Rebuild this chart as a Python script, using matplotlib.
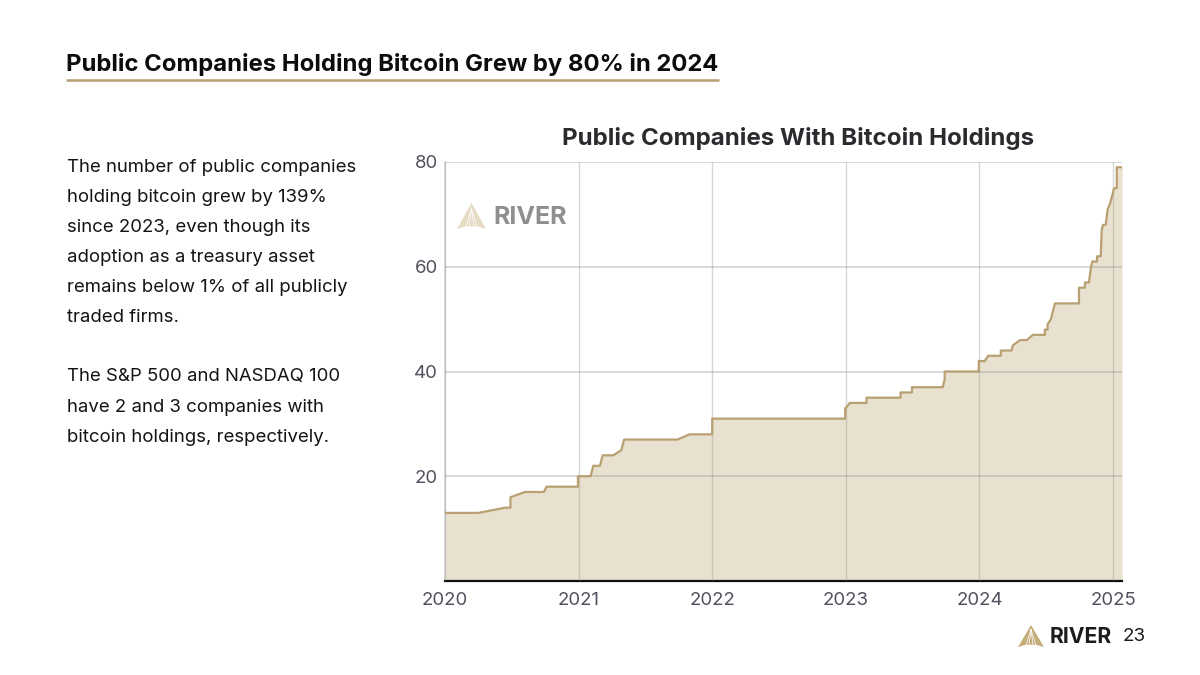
import matplotlib
matplotlib.use("Agg")
from matplotlib import pyplot as plt
from matplotlib.patches import Polygon

plt.rcParams["font.family"] = ["Inter", "DejaVu Sans"]

GOLD = "#b9a072"
FILL = "#e9e1cf"
GRID = "#d6d6d6"
TICK = "#50505e"

# (year as decimal, number of companies)
years = [
    2020.00, 2020.25, 2020.45, 2020.49, 2020.49, 2020.60, 2020.74, 2020.76, 2020.995, 2020.995,
    2021.09, 2021.11, 2021.16, 2021.18, 2021.26, 2021.32, 2021.34, 2021.74, 2021.83, 2022.00, 2022.00,
    2022.995, 2022.995, 2023.00, 2023.03, 2023.155, 2023.155, 2023.41, 2023.41, 2023.495, 2023.495,
    2023.725, 2023.74, 2023.74, 2023.995, 2023.995, 2024.04, 2024.065, 2024.16, 2024.16, 2024.24, 2024.25,
    2024.305, 2024.355, 2024.40, 2024.49, 2024.49, 2024.51, 2024.51, 2024.535, 2024.565, 2024.745, 2024.745,
    2024.79, 2024.79, 2024.82, 2024.835, 2024.845, 2024.88, 2024.88, 2024.908, 2024.915, 2024.925, 2024.945,
    2024.95, 2024.96, 2024.977, 2024.998, 2025.007, 2025.028, 2025.028, 2025.067,
]
companies = [
    13, 13, 14, 14, 16, 17, 17, 18, 18, 20,
    20, 22, 22, 24, 24, 25, 27, 27, 28, 28, 31,
    31, 33, 33, 34, 34, 35, 35, 36, 36, 37,
    37, 38.5, 40, 40, 42, 42, 43, 43, 44, 44, 45,
    46, 46, 47, 47, 48, 48, 49, 50, 53, 53, 56,
    56, 57, 57, 60, 61, 61, 62, 62, 67, 68, 68,
    69, 71, 72, 74, 75, 75, 79, 79,
]

x_ticks = [2020, 2021, 2022, 2023, 2024, 2025]
y_ticks = [20, 40, 60, 80]

slide_title = "Public Companies Holding Bitcoin Grew by 80% in 2024"
chart_title = "Public Companies With Bitcoin Holdings"
body_lines = [
    ("The number of public companies", 167),
    ("holding bitcoin grew by 139%", 197),
    ("since 2023, even though its", 228),
    ("adoption as a treasury asset", 258),
    ("remains below 1% of all publicly", 288),
    ("traded firms.", 318),
    ("The S&P 500 and NASDAQ 100", 376),
    ("have 2 and 3 companies with", 407),
    ("bitcoin holdings, respectively.", 438),
]


def draw_logo(page, x, y, w, h, text_color, tri_color, text_x, text_y, size):
    # triangle mark, slightly hollow base, ribs cut out of it
    mid = x + w / 2
    page.add_patch(Polygon([(x, y + h), (mid, y), (x + w, y + h), (mid + w * 0.2, y + h * 0.9),
                            (mid - w * 0.2, y + h * 0.9)],
                           closed=True, facecolor=tri_color, edgecolor="none"))
    for rib in [-0.2, -0.08, 0.08, 0.2]:
        page.plot([mid, mid + rib * w], [y + h * 0.2, y + h * 0.95], color="white", lw=0.5)
    page.text(text_x, text_y, "RIVER", fontsize=size, fontweight="bold", color=text_color,
              ha="left", va="center")


def main():
    fig = plt.figure(figsize=(12, 6.75), dpi=100)

    # slide furniture, in pixels
    page = fig.add_axes([0, 0, 1, 1])
    page.set_xlim(0, 1200)
    page.set_ylim(675, 0)
    page.axis("off")

    page.text(66, 64, slide_title, fontsize=17.2, fontweight="bold", color="#0c0c0c", ha="left", va="center")
    page.plot([66, 719], [79.5, 79.5], color=GOLD, lw=1.8, solid_capstyle="butt")
    for line, y in body_lines:
        page.text(67, y, line, fontsize=13.37, color="#141414", ha="left", va="center")
    page.text(798, 138, chart_title, fontsize=17.35, fontweight="bold", color="#2b2b2f", ha="center", va="center")

    # chart
    ax = fig.add_axes([445 / 1200, 1 - 581 / 675, (1122 - 445) / 1200, (581 - 162) / 675])
    ax.set_zorder(2)
    ax.patch.set_alpha(0)
    ax.fill_between(years, companies, 0, color=FILL, lw=0, zorder=1)
    ax.plot(years, companies, color=GOLD, lw=1.6, zorder=4, solid_joinstyle="round")
    ax.set_xlim(2020, 2025.067)
    ax.set_ylim(0, 80)
    ax.set_xticks(x_ticks)
    ax.set_yticks(y_ticks)
    ax.grid(axis="y", color="#8c8c8c", alpha=0.35, lw=1.3, zorder=2)
    ax.grid(axis="x", color="#8c8c8c", alpha=0.35, lw=1.0, zorder=2)
    ax.set_axisbelow(False)
    ax.tick_params(length=0, labelsize=13.4, labelcolor=TICK, pad=5)
    ax.tick_params(axis="x", pad=8)
    ax.spines["left"].set_color(GRID)
    ax.spines["left"].set_linewidth(1.3)
    ax.spines["top"].set_visible(False)
    ax.spines["right"].set_visible(False)
    ax.spines["bottom"].set_color("#111111")
    ax.spines["bottom"].set_linewidth(1.6)

    # logos
    logos = fig.add_axes([0, 0, 1, 1])
    logos.set_xlim(0, 1200)
    logos.set_ylim(675, 0)
    logos.axis("off")
    logos.set_zorder(3)
    draw_logo(logos, 457, 203, 29, 26, "#8f8f8f", "#e6dcc6", 493, 217, 18)
    draw_logo(logos, 1018, 625, 26, 22, "#1c1c1c", "#c6ae7c", 1050, 637, 15.2)
    logos.text(1123, 636.5, "23", fontsize=13.5, color="#1c1c1c", ha="left", va="center")

    fig.savefig("out.png", dpi=100)


if __name__ == "__main__":
    main()
